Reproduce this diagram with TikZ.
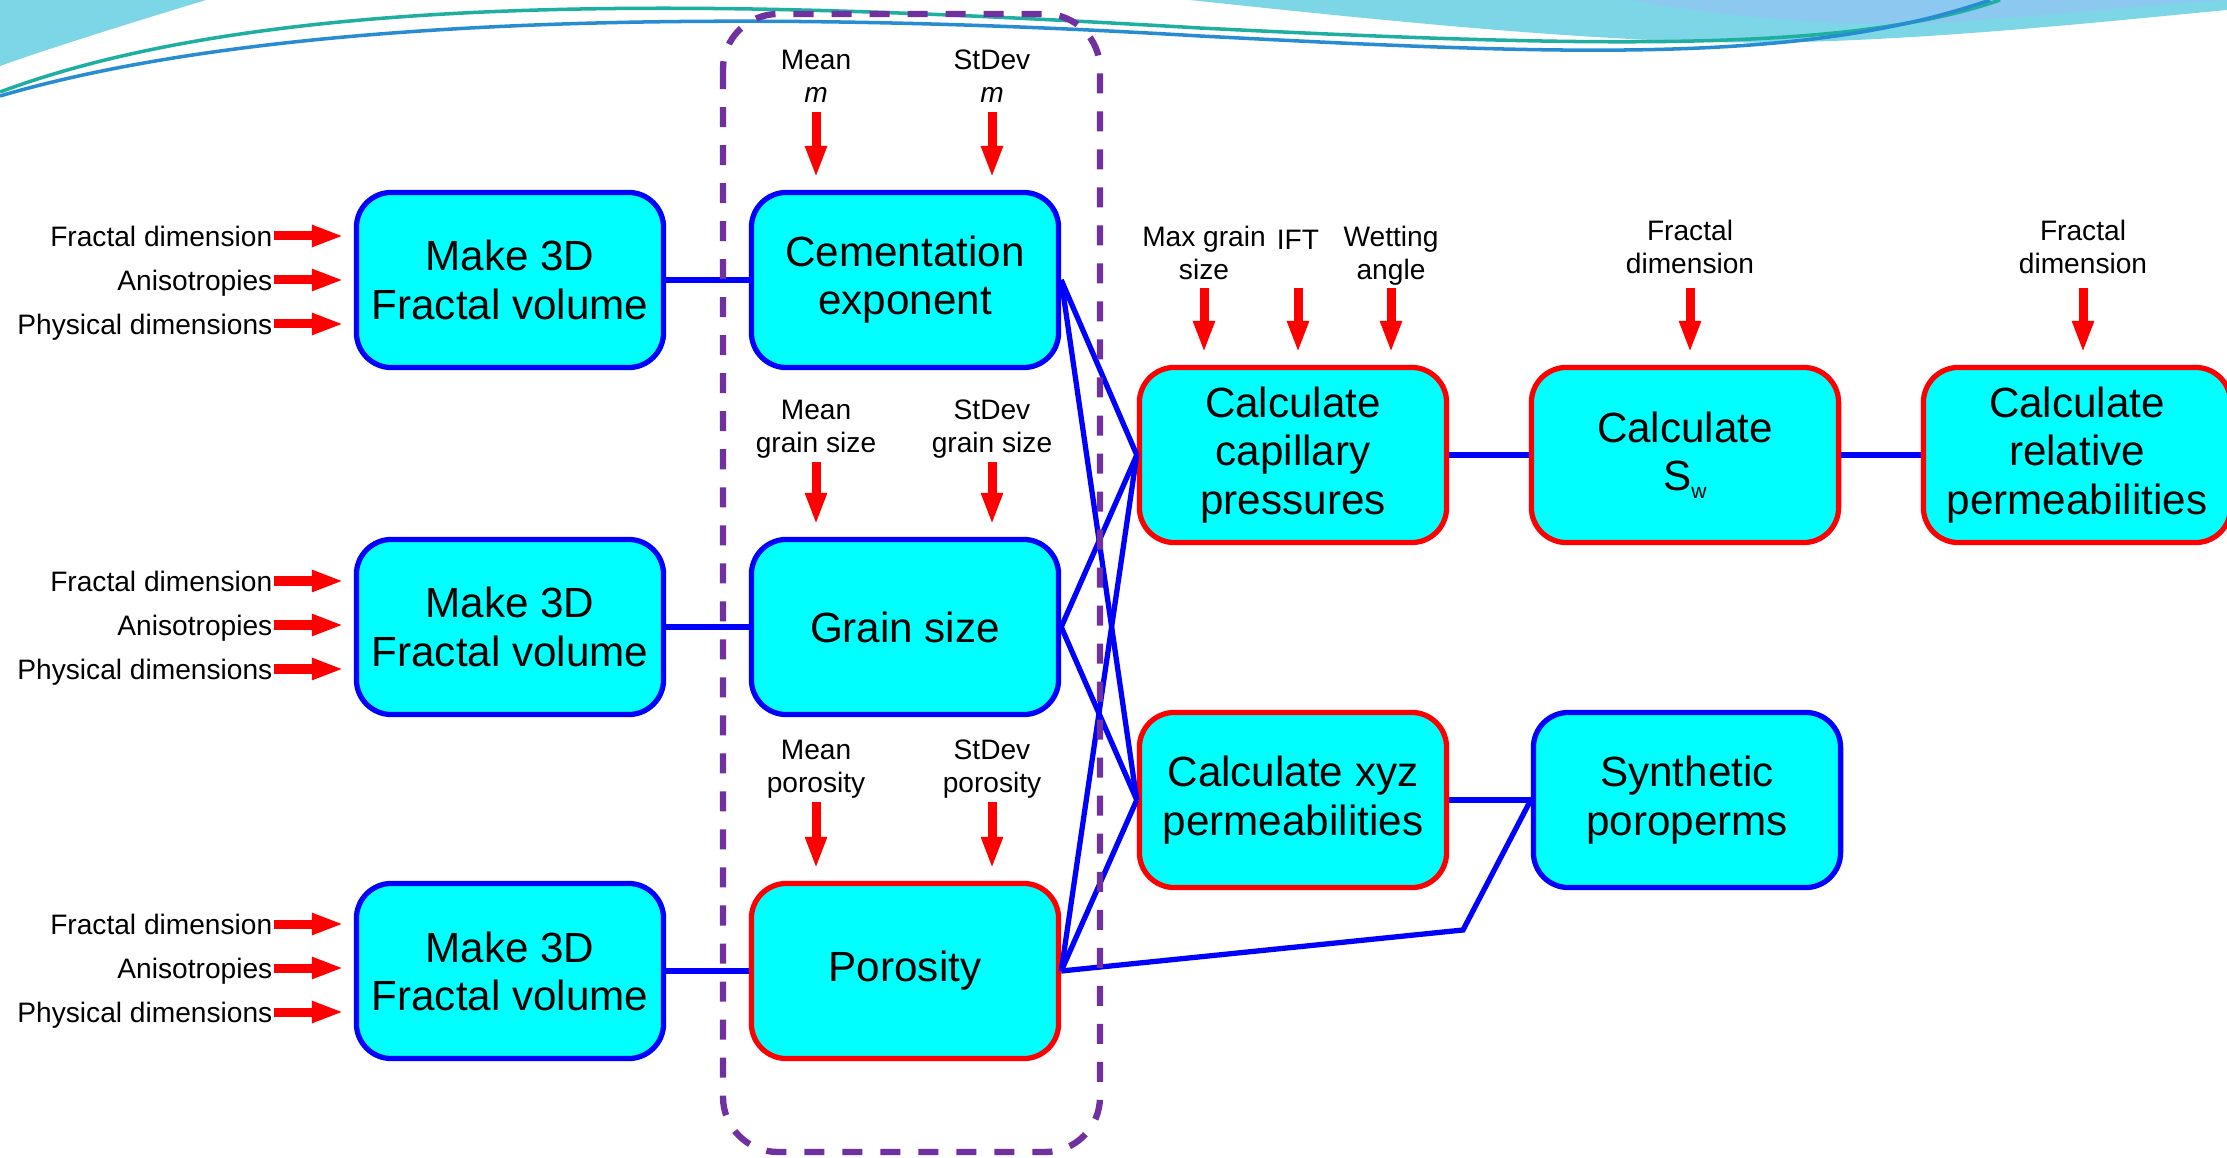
\documentclass[tikz,border=0pt]{standalone}
\usepackage{fontspec}
\setmainfont{Liberation Sans}
\usepackage{tikz}
\usetikzlibrary{
	arrows.meta,
	positioning,
	calc
}
\usepackage{xcolor}

\definecolor{boxcyan}{RGB}{0,255,255}
\definecolor{linkblue}{RGB}{0,0,255}
\definecolor{edgered}{RGB}{255,0,0}
\definecolor{groupviolet}{RGB}{112,48,160}
\definecolor{swcyan}{RGB}{125,214,230}
\definecolor{swblue}{RGB}{140,200,240}
\definecolor{swteal}{RGB}{30,175,160}
\definecolor{swline}{RGB}{40,140,210}

\tikzset{
	stepbox/.style={draw=linkblue, line width=1.5pt, fill=boxcyan,
		rounded corners=0.35cm, minimum width=3.07cm, minimum height=1.75cm,
		inner sep=0pt, align=center, font=\fontsize{12}{13.7}\selectfont},
	calcbox/.style={stepbox, draw=edgered},
	inlbl/.style={inner sep=0pt, align=center, text depth=0pt,
		font=\fontsize{8}{9.3}\selectfont},
	inarrow/.style={draw=red, line width=0.09cm,
		-{Triangle[length=0.32cm, width=0.2cm]},
		shorten <=0.11cm, shorten >=0.12cm},
	sidearrow/.style={inarrow, shorten <=0.01cm, shorten >=0.1cm},
	link/.style={draw=linkblue, line width=1.5pt},
	groupbox/.style={draw=groupviolet, line width=1.8pt, rounded corners=0.55cm,
		dash pattern=on 0.2cm off 0.18cm}
}

\begin{document}
\begin{tikzpicture}[x=0.01cm,y=-0.01cm]
	
	\useasboundingbox (0,0) rectangle (2227,1158);
	\fill[white] (0,0) rectangle (2227,1158);
	
	% slide swoosh
	\fill[swcyan] (0,0) -- (206,0) .. controls (140,20) and (50,48) .. (0,66) -- cycle;
	\fill[swcyan] (1190,0) .. controls (1450,28) and (1650,46) .. (1800,42)
		.. controls (1950,38) and (2100,22) .. (2227,10) -- (2227,0) -- cycle;
	\fill[swblue] (1630,0) .. controls (1750,20) and (1850,28) .. (1950,22)
		.. controls (2050,15) and (2150,5) .. (2227,0) -- cycle;
	\draw[swteal, line width=1pt] (0,92) .. controls (300,-20) and (800,5) .. (1200,28)
		.. controls (1600,48) and (1850,52) .. (2000,0);
	\draw[swline, line width=1pt] (0,96) .. controls (300,8) and (800,12) .. (1200,36)
		.. controls (1550,54) and (1800,66) .. (1990,0);
	
	% fractal volumes
	\node[stepbox] (mkA) at (510,280) {Make 3D\\Fractal volume};
	\node[stepbox] (mkB) at (510,627) {Make 3D\\Fractal volume};
	\node[stepbox] (mkC) at (510,971) {Make 3D\\Fractal volume};
	
	% properties
	\node[stepbox] (cem) at (905,280) {Cementation\\exponent};
	\node[stepbox] (grain) at (905,627) {Grain size};
	\node[calcbox] (poro) at (905,971) {Porosity};
	
	% calculations
	\node[calcbox] (cap) at (1293,455) {Calculate\\capillary\\pressures};
	\node[calcbox] (xyz) at (1293,800) {Calculate xyz\\permeabilities};
	\node[calcbox] (sw) at (1685,455) {Calculate\\S\raisebox{-0.35ex}{\fontsize{6}{6}\selectfont w}};
	\node[calcbox] (rel) at (2077,455) {Calculate\\relative\\permeabilities};
	\node[stepbox] (syn) at (1687,800) {Synthetic\\poroperms};
	
	% inputs of the fractal volumes
	\node[inlbl, anchor=east] (fdA) at (273,236) {Fractal dimension};
	\node[inlbl, anchor=east] (anA) at (273,280) {Anisotropies};
	\node[inlbl, anchor=east] (pdA) at (273,324) {Physical dimensions};
	\node[inlbl, anchor=east] (fdB) at (273,581) {Fractal dimension};
	\node[inlbl, anchor=east] (anB) at (273,625) {Anisotropies};
	\node[inlbl, anchor=east] (pdB) at (273,669) {Physical dimensions};
	\node[inlbl, anchor=east] (fdC) at (273,924) {Fractal dimension};
	\node[inlbl, anchor=east] (anC) at (273,968) {Anisotropies};
	\node[inlbl, anchor=east] (pdC) at (273,1012) {Physical dimensions};
	\draw[sidearrow] (fdA.east) -- (fdA.east -| mkA.west);
	\draw[sidearrow] (anA.east) -- (anA.east -| mkA.west);
	\draw[sidearrow] (pdA.east) -- (pdA.east -| mkA.west);
	\draw[sidearrow] (fdB.east) -- (fdB.east -| mkB.west);
	\draw[sidearrow] (anB.east) -- (anB.east -| mkB.west);
	\draw[sidearrow] (pdB.east) -- (pdB.east -| mkB.west);
	\draw[sidearrow] (fdC.east) -- (fdC.east -| mkC.west);
	\draw[sidearrow] (anC.east) -- (anC.east -| mkC.west);
	\draw[sidearrow] (pdC.east) -- (pdC.east -| mkC.west);
	
	% inputs of the properties
	\node[inlbl, anchor=south] (mnm) at (816,103) {Mean\\\textit{m}};
	\node[inlbl, anchor=south] (sdm) at (992,103) {StDev\\\textit{m}};
	\node[inlbl, anchor=south] (mng) at (816,453) {Mean\\grain size};
	\node[inlbl, anchor=south] (sdg) at (992,453) {StDev\\grain size};
	\node[inlbl, anchor=south] (mnp) at (816,793) {Mean\\porosity};
	\node[inlbl, anchor=south] (sdp) at (992,793) {StDev\\porosity};
	\draw[inarrow, shorten <=0.09cm] (mnm.south) -- (mnm.south |- cem.north);
	\draw[inarrow, shorten <=0.09cm] (sdm.south) -- (sdm.south |- cem.north);
	\draw[inarrow, shorten <=0.09cm] (mng.south) -- (mng.south |- grain.north);
	\draw[inarrow, shorten <=0.09cm] (sdg.south) -- (sdg.south |- grain.north);
	\draw[inarrow, shorten <=0.09cm] (mnp.south) -- (mnp.south |- poro.north);
	\draw[inarrow, shorten <=0.09cm] (sdp.south) -- (sdp.south |- poro.north);
	
	% inputs of the calculations
	\node[inlbl, anchor=south] (mgs) at (1204,280) {Max grain\\size};
	\node[inlbl, anchor=base] (ift) at (1298,250) {IFT};
	\node[inlbl, anchor=south] (wet) at (1391,280) {Wetting\\angle};
	\node[inlbl, anchor=south] (fds) at (1690,274) {Fractal\\dimension};
	\node[inlbl, anchor=south] (fdr) at (2083,274) {Fractal\\dimension};
	\draw[inarrow, shorten <=0.08cm] (mgs.south) -- (mgs.south |- cap.north);
	\draw[inarrow, shorten <=0.08cm] (ift.south |- mgs.south) -- (ift.south |- cap.north);
	\draw[inarrow, shorten <=0.08cm] (wet.south) -- (wet.south |- cap.north);
	\draw[inarrow, shorten <=0.14cm] (fds.south) -- (fds.south |- sw.north);
	\draw[inarrow, shorten <=0.14cm] (fdr.south) -- (fdr.south |- rel.north);
	
	% links
	\draw[link] (mkA) -- (cem);
	\draw[link] (mkB) -- (grain);
	\draw[link] (mkC) -- (poro);
	\draw[link] (cem.east) -- (cap.west);
	\draw[link] (cem.east) -- (xyz.west);
	\draw[link] (grain.east) -- (cap.west);
	\draw[link] (grain.east) -- (xyz.west);
	\draw[link] (poro.east) -- (cap.west);
	\draw[link] (poro.east) -- (xyz.west);
	\coordinate (bend) at (1463,930);
	\draw[link] (poro.east) -- (bend) -- (syn.west);
	\draw[link] (cap) -- (sw);
	\draw[link] (sw) -- (rel);
	\draw[link] (xyz) -- (syn);
	
	% grouped properties
	\draw[groupbox] (723,14) rectangle (1100,1152);
	
\end{tikzpicture}
\end{document}
